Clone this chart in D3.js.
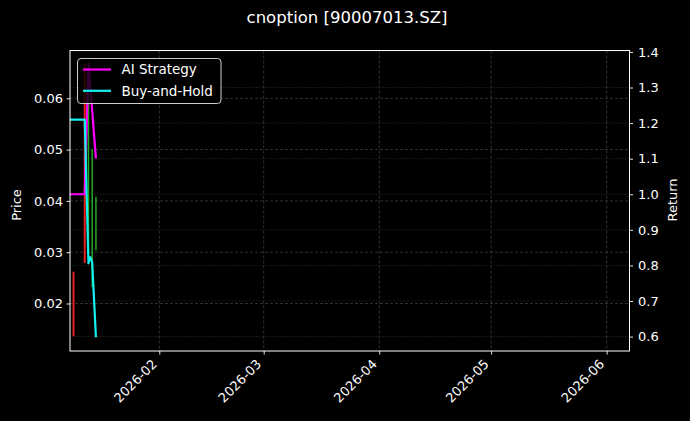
<!DOCTYPE html>
<html><head><meta charset="utf-8">
<script src="https://cdn.jsdelivr.net/npm/d3@7"></script>
<style>
body{margin:0;background:#000;}
svg{display:block;font-family:"DejaVu Sans",sans-serif;}
</style>
</head><body>
<svg id="c" width="690" height="421"></svg>
<script>
// ---- data ----
const titleText = "cnoption [90007013.SZ]";
const candleDates = ["2026-01-09","2026-01-12","2026-01-13","2026-01-14","2026-01-15"];
const candleOpen  = [0.0262, 0.0668, 0.0295, 0.0232, 0.0304];
const candleClose = [0.0136, 0.0279, 0.0640, 0.0500, 0.0408];
const aiDates   = ["2026-01-08","2026-01-12","2026-01-13","2026-01-15"];
const aiReturn  = [1.0, 1.0, 1.368, 1.101];
const bhDates   = ["2026-01-08","2026-01-12","2026-01-13","2026-01-13T12:00","2026-01-14","2026-01-15"];
const bhReturn  = [1.21, 1.21, 0.806, 0.823, 0.809, 0.598];
const priceTicks  = [0.02, 0.03, 0.04, 0.05, 0.06];
const returnTicks = [0.6, 0.7, 0.8, 0.9, 1.0, 1.1, 1.2, 1.3, 1.4];
const monthTicks  = ["2026-02-01","2026-03-01","2026-04-01","2026-05-01","2026-06-01"];
const legendLabels = ["AI Strategy", "Buy-and-Hold"];

const P = s => new Date(s.length === 10 ? s + "T00:00:00Z" : s + ":00Z");

const L = 70, R = 629.5, T = 50.5, B = 351;
const svg = d3.select("#c");
svg.append("rect").attr("width",690).attr("height",421).attr("fill","#000");

const x = d3.scaleUtc()
  .domain([new Date(Date.UTC(2026,0,8,1,9)), new Date(Date.UTC(2026,5,7,2,46))])
  .range([L, R]);
const yP = d3.scaleLinear().domain([0.01074, 0.06932]).range([B, T]);
const yR = d3.scaleLinear().domain([0.5595, 1.404]).range([B, T]);

// clip
svg.append("defs").append("clipPath").attr("id","clip")
  .append("rect").attr("x",L).attr("y",T).attr("width",R-L).attr("height",B-T);

// grids
const grid = svg.append("g");
grid.selectAll(".gv").data(monthTicks).join("line")
  .attr("x1", d => x(P(d))).attr("x2", d => x(P(d)))
  .attr("y1", T).attr("y2", B)
  .attr("stroke", "#464646").attr("stroke-width", 0.7).attr("stroke-dasharray", "3,2");
grid.selectAll(".gp").data(priceTicks).join("line")
  .attr("x1", L).attr("x2", R)
  .attr("y1", d => yP(d)).attr("y2", d => yP(d))
  .attr("stroke", "#464646").attr("stroke-width", 0.7).attr("stroke-dasharray", "3,2");
grid.selectAll(".gr").data(returnTicks).join("line")
  .attr("x1", L).attr("x2", R)
  .attr("y1", d => yR(d)).attr("y2", d => yR(d))
  .attr("stroke", "#2c2c2c").attr("stroke-width", 0.7).attr("stroke-dasharray", "1.5,1.5");

// candles
const plot = svg.append("g").attr("clip-path","url(#clip)");
const candles = candleDates.map((d,i) => ({d:P(d), o:candleOpen[i], c:candleClose[i]}));
plot.selectAll(".cd").data(candles).join("line")
  .attr("x1", d => x(d.d)).attr("x2", d => x(d.d))
  .attr("y1", d => yP(d.o)).attr("y2", d => yP(d.c))
  .attr("stroke", d => d.c >= d.o ? "#22a822" : "#e8201e")
  .attr("stroke-width", d => d.c >= d.o ? 1.5 : 2);

// return lines
const line = d3.line().x(d => x(d.d)).y(d => yR(d.v));
const ai = aiDates.map((d,i) => ({d:P(d), v:aiReturn[i]}));
const bh = bhDates.map((d,i) => ({d:P(d), v:bhReturn[i]}));
plot.append("path").datum(ai).attr("d", line).attr("fill","none")
  .attr("stroke","#ff00ff").attr("stroke-width",2.2).attr("stroke-linejoin","round");
plot.append("path").datum(bh).attr("d", line).attr("fill","none")
  .attr("stroke","#14f0f0").attr("stroke-width",2.2).attr("stroke-linejoin","round");

// axes
const fs = 13;
const axL = svg.append("g").attr("transform",`translate(${L},0)`)
  .call(d3.axisLeft(yP).tickValues(priceTicks).tickFormat(d3.format(".2f")).tickSize(3.5).tickPadding(3.5));
const axR = svg.append("g").attr("transform",`translate(${R},0)`)
  .call(d3.axisRight(yR).tickValues(returnTicks).tickFormat(d3.format(".1f")).tickSize(3.5).tickPadding(5));
const axB = svg.append("g").attr("transform",`translate(0,${B})`)
  .call(d3.axisBottom(x).tickValues(monthTicks.map(P)).tickFormat(d3.utcFormat("%Y-%m")).tickSize(3.5));
[axL, axR, axB].forEach(a => {
  a.select(".domain").remove();
  a.selectAll(".tick line").attr("stroke","#fff").attr("stroke-width",0.9);
  a.selectAll(".tick text").attr("fill","#fff").attr("font-size",fs).attr("font-family","DejaVu Sans");
});
axB.selectAll(".tick text")
  .attr("text-anchor","end").attr("dy",null).attr("y",null)
  .attr("transform","translate(-2,14) rotate(-45)");

// frame
svg.append("rect").attr("x",L).attr("y",T).attr("width",R-L).attr("height",B-T)
  .attr("fill","none").attr("stroke","#fff").attr("stroke-width",1);

// labels
svg.append("text").attr("x",347).attr("y",23).attr("text-anchor","middle")
  .attr("fill","#fff").attr("font-size",16.5).text(titleText);
svg.append("text").attr("transform","translate(21,205) rotate(-90)").attr("text-anchor","middle")
  .attr("fill","#fff").attr("font-size",fs).text("Price");
svg.append("text").attr("transform","translate(677,200) rotate(-90)").attr("text-anchor","middle")
  .attr("fill","#fff").attr("font-size",fs).text("Return");

// legend
const lg = svg.append("g");
lg.append("rect").attr("x",77.5).attr("y",58.5).attr("width",143.5).attr("height",45)
  .attr("rx",3.5).attr("fill","#000").attr("fill-opacity",0.8)
  .attr("stroke","#cccccc").attr("stroke-width",1);
const legColors = ["#ff00ff","#14f0f0"];
legendLabels.forEach((t,i) => {
  const yy = 69.5 + i*21.3;
  lg.append("line").attr("x1",83).attr("x2",111).attr("y1",yy).attr("y2",yy)
    .attr("stroke",legColors[i]).attr("stroke-width",2.2);
  lg.append("text").attr("x",121.5).attr("y",yy+4.8).attr("fill","#fff")
    .attr("font-size",13.5).text(t);
});
</script>
</body></html>
